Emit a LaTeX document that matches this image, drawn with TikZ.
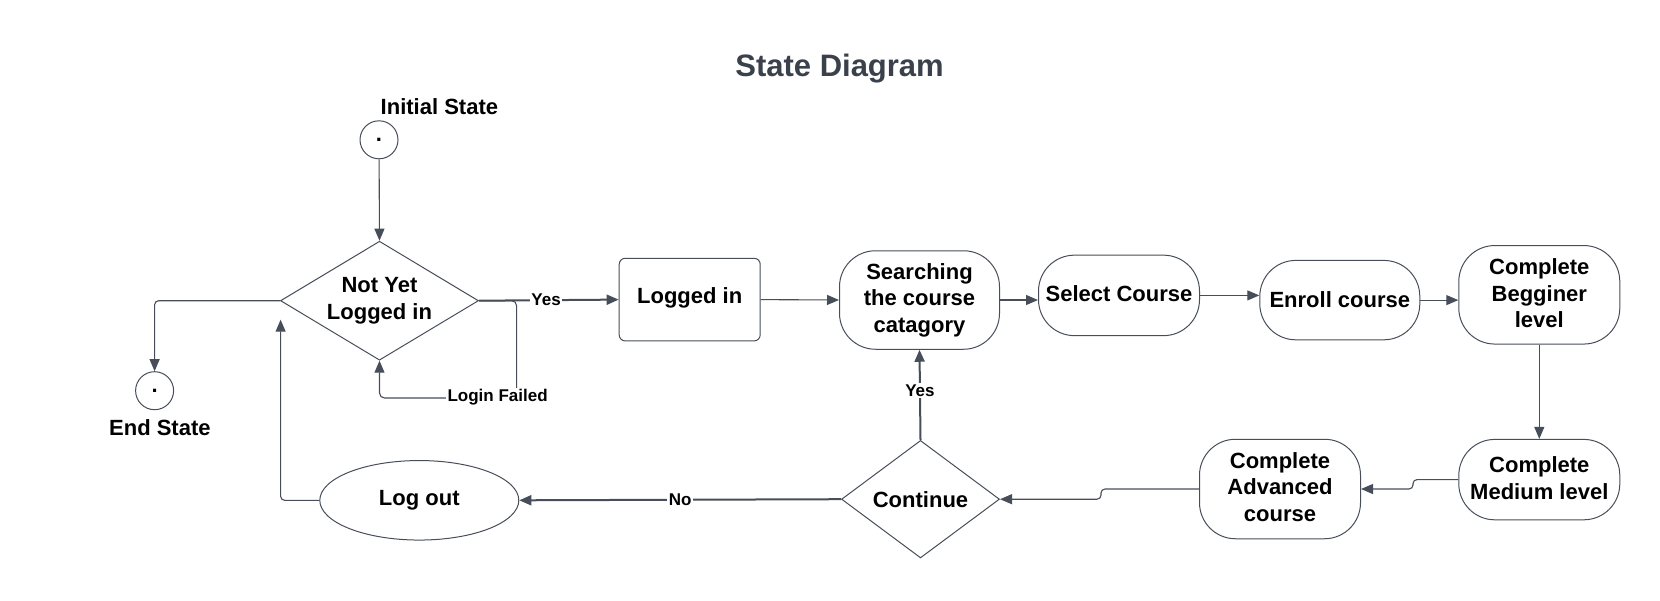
\documentclass[tikz,border=0pt]{standalone}
\usepackage{fontspec}
\setmainfont{Liberation Sans}
\usetikzlibrary{shapes.geometric,arrows.meta}
\definecolor{ln}{HTML}{474E59}
\definecolor{ttl}{HTML}{3A414B}
\begin{document}
\begin{tikzpicture}[x=1pt,y=-1pt,
  every node/.style={font=\bfseries\fontsize{22}{26.5}\selectfont, text=black},
  box/.style={draw=ln, line width=1pt, rounded corners=6pt, minimum width=141pt, minimum height=82.6pt, inner sep=0pt, text depth=9pt},
  pill/.style={draw=ln, line width=1pt, rounded corners=36pt, minimum width=161pt, inner sep=0pt, align=center},
  dec/.style={draw=ln, line width=1pt, diamond, inner sep=0pt, align=center},
  circ/.style={draw=ln, line width=1pt, circle, minimum size=38pt, inner sep=0pt},
  ell/.style={draw=ln, line width=1pt, ellipse, minimum width=199pt, minimum height=79.5pt, inner sep=0pt},
  edge/.style={draw=ln, line width=1.1pt, -{Triangle[length=12pt,width=10pt]}},
  thickedge/.style={edge, line width=2pt},
  lbl/.style={fill=white, inner sep=1.5pt, font=\bfseries\fontsize{17}{20}\selectfont}
]
\useasboundingbox (0,0) rectangle (1660,600);

\node[font=\bfseries\fontsize{31}{37}\selectfont, text=ttl] (title) at (839.6,68.5) {State Diagram};
\node (initlbl) at (439.4,106.9) {Initial State};
\node[circ] (init) at (379,139.8) {.};
\node[dec, minimum width=198pt, minimum height=119pt, aspect=1.66] (nyl) at (379.5,300.7) {Not Yet\\Logged in};
\node[circ] (endc) at (154.6,390.7) {.};
\node (endlbl) at (159.9,427.7) {End State};
\node[box] (login) at (689.7,299.6) {Logged in};
\node[pill, minimum width=160pt, minimum height=98.5pt] (search) at (919.5,300) {Searching\\the course\\catagory\rule[-4pt]{0pt}{0pt}};
\node[pill, minimum height=80.5pt] (select) at (1119,295.4) {Select Course\rule[-4pt]{0pt}{0pt}};
\node[pill, minimum width=160pt, minimum height=79.4pt] (enroll) at (1339.8,300.1) {Enroll course};
\node[pill, minimum height=98.5pt] (beg) at (1539.3,294.8) {Complete\\Begginer\\level\rule[-3pt]{0pt}{0pt}};
\node[pill, minimum height=80.4pt] (med) at (1539.3,479.6) {Complete\\Medium level\rule[-3pt]{0pt}{0pt}};
\node[pill, minimum height=99.5pt] (adv) at (1280,489) {Complete\\Advanced\\course\rule[-4pt]{0pt}{0pt}};
\node[dec, minimum width=158pt, minimum height=117.5pt, aspect=1.34] (cont) at (920.5,499.2) {Continue};
\node[ell] (logout) at (419.3,500.3) {Log out};

\draw[edge] (init) -- (nyl.north);
\draw[edge, rounded corners=4pt] (nyl.west) -| (endc.north);
\coordinate (lfA) at (516.6,300.7);
\coordinate (lfB) at (516.6,398);
\draw[edge, rounded corners=5pt] (nyl.east) -- (lfA) -- (lfB) -| (nyl.south);
\node[lbl] (lflbl) at (497.6,397) {Login Failed};
\draw[thickedge] (nyl.east) -- node[lbl, pos=0.48] {Yes} (login.west);
\draw[edge] (login.east) -- (search.west);
\draw[edge] (search.east) -- (search.east -| select.west);
\draw[edge] (select.east) -- (select.east -| enroll.west);
\draw[edge] (enroll.east) -- (enroll.east -| beg.west);
\draw[edge] (beg.south) -- (med.north);
\coordinate (j1) at (1413,479.6);
\coordinate (j2) at (1413,489);
\draw[edge, rounded corners=4pt] (med.west) -- (j1) -- (j2) -- (adv.east);
\coordinate (j3) at (1101,489);
\coordinate (j4) at (1101,499.2);
\draw[edge, rounded corners=4pt] (adv.west) -- (j3) -- (j4) -- (cont.east);
\draw[thickedge] (cont.north) -- node[lbl, pos=0.55] {Yes} (search.south);
\draw[thickedge] (cont.west) -- node[lbl] {No} (logout.east);
\coordinate (lo) at (280.6,319.7);
\draw[edge, rounded corners=4pt] (logout.west) -| (lo);
\end{tikzpicture}
\end{document}
